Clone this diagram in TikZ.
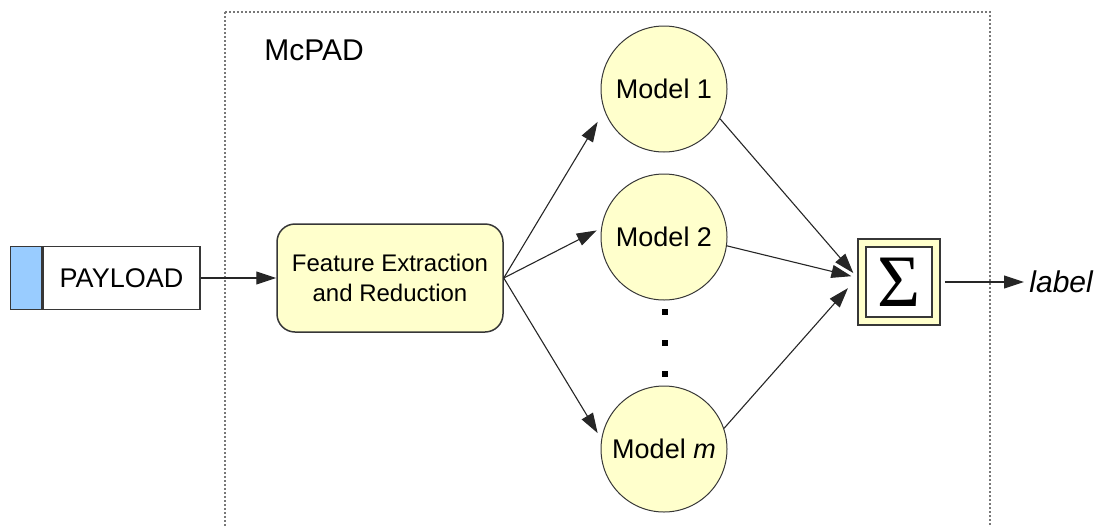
\documentclass[tikz,border=0pt]{standalone}
\usepackage{fontspec}
\setmainfont{Liberation Sans}
\newfontfamily\sigmafont{Liberation Serif}
\usetikzlibrary{arrows.meta}
\definecolor{padyellow}{RGB}{255,255,204}
\definecolor{padblue}{RGB}{153,204,255}
\definecolor{padline}{RGB}{55,55,55}
\definecolor{padframe}{RGB}{120,120,120}
\begin{document}
\begin{tikzpicture}[x=0.5pt,y=-0.5pt,
  arrowtip/.style={-{Triangle[length=10pt,width=6.5pt]}},
  conn/.style={draw=black!85, line width=0.55pt, arrowtip},
  model/.style={circle, draw=padline, line width=0.5pt, fill=padyellow,
    minimum size=63pt, inner sep=0pt, font=\fontsize{13.5}{16}\selectfont},
  paybox/.style={rectangle, draw=padline, line width=0.75pt, fill=white,
    minimum width=78.5pt, minimum height=31.5pt, inner sep=0pt,
    font=\fontsize{13.5}{16}\selectfont},
  tagbox/.style={rectangle, draw=padline, line width=0.75pt, fill=padblue,
    minimum width=15.5pt, minimum height=31.5pt, inner sep=0pt},
  procbox/.style={rectangle, rounded corners=9pt, draw=padline, line width=0.75pt,
    fill=padyellow, minimum width=113pt, minimum height=54pt, inner sep=0pt,
    align=center, font=\fontsize{12}{15}\selectfont},
  sumouter/.style={rectangle, draw=padline, line width=0.75pt, fill=padyellow,
    minimum width=41pt, minimum height=43pt, inner sep=0pt},
  suminner/.style={rectangle, draw=padline, line width=0.75pt, fill=white,
    minimum width=33pt, minimum height=35pt, inner sep=0pt,
    font=\sigmafont\fontsize{37}{37}\selectfont},
  dotsq/.style={rectangle, fill=black, minimum size=3pt, inner sep=0pt},
  frame/.style={draw=padframe, line width=0.8pt, dash pattern=on 0.9pt off 1.1pt}
]
\useasboundingbox (0,0) rectangle (1097,525);

% component boundary
\draw[frame] (225,12) -- (990,12) -- (990,540) (225,12) -- (225,540);
\node[anchor=west, inner sep=0pt, font=\fontsize{15}{18}\selectfont] (title) at (264,50) {McPAD};

% input payload
\node[paybox] (pay) at (121.5,278) {PAYLOAD};
\node[tagbox, anchor=east] (tag) at (pay.west) {};

% feature extraction
\node[procbox] (feat) at (390,278) {Feature Extraction\\and Reduction};

% models
\node[model] (m1) at (664,89) {Model 1};
\node[model] (m2) at (664,237) {Model 2};
\node[model] (mm) at (664,449) {Model \textit{m}};
\node[dotsq] (d1) at (665,312) {};
\node[dotsq] (d2) at (665,343) {};
\node[dotsq] (d3) at (665,374) {};

% combiner
\node[sumouter] (sig) at (899,282) {};
\node[suminner] (sigin) at (sig.center) {\raisebox{-1pt}{Σ}};

% output
\node[anchor=west, inner sep=0pt, font=\fontsize{15}{18}\selectfont\itshape] (lbl) at (1029,282) {label};

% connectors
\draw[conn] (pay.east) -- (feat.west);
\draw[conn, shorten >=6.5pt] (feat.east) -- (m1.200);
\draw[conn, shorten >=2.5pt] (feat.east) -- (m2.172);
\draw[conn, shorten >=3.5pt] (feat.east) -- (mm.171);
\draw[conn, shorten >=3pt] (m1.-28) -- (sig.174);
\draw[conn, shorten >=3pt] (m2.-8) -- (sig.174);
\draw[conn, shorten >=7pt] (mm.19) -- (sig.174);
\draw[conn, shorten <=2pt, shorten >=2.5pt] (sig.east) -- (lbl.west);
\end{tikzpicture}
\end{document}
